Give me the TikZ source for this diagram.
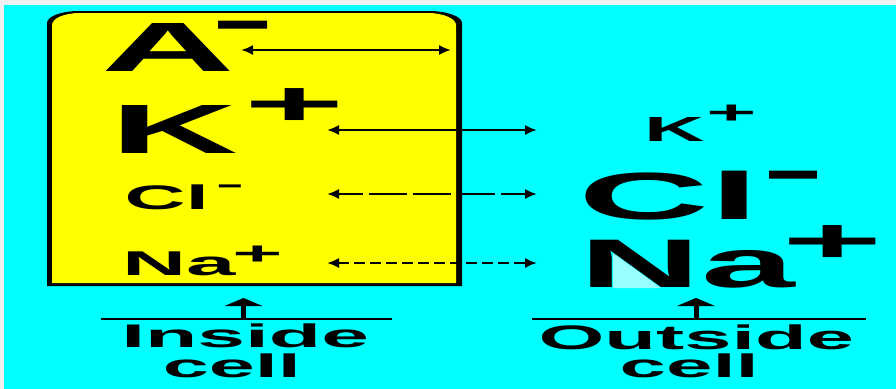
\documentclass[tikz,border=0pt]{standalone}
\usepackage{fontspec}
\setmainfont{Liberation Sans}
\usetikzlibrary{arrows.meta,calc}
\XeTeXuseglyphmetrics=1
\definecolor{bgcyan}{RGB}{0,255,255}
\definecolor{boxyellow}{RGB}{255,255,0}
\definecolor{pagegray}{RGB}{240,240,240}
\definecolor{palecyan}{RGB}{153,255,255}
\newlength\pxu
\setlength\pxu{0.75pt}
\newlength\inkL \newlength\inkT \newlength\inkR \newlength\inkB \newlength\inkH
\newcommand\fitt[3]{\resizebox*{#1\pxu}{#2\pxu}{\bfseries #3}}
% a word trimmed to the ink of its first and last letters
\newcommand\word[3]{\kern-\XeTeXglyphbounds1 \XeTeXcharglyph`#2\relax #1\kern-\XeTeXglyphbounds3 \XeTeXcharglyph`#3\relax}
% a sign trimmed to its ink on all sides
\newcommand\signink[1]{%
  \setlength\inkL{\XeTeXglyphbounds1 \XeTeXcharglyph#1\relax}%
  \setlength\inkT{\XeTeXglyphbounds2 \XeTeXcharglyph#1\relax}%
  \setlength\inkR{\XeTeXglyphbounds3 \XeTeXcharglyph#1\relax}%
  \setlength\inkB{\XeTeXglyphbounds4 \XeTeXcharglyph#1\relax}%
  \setlength\inkH{\inkT}\addtolength\inkH{\inkB}%
  \raisebox{\inkB}[\inkH][0pt]{\kern-\inkL\char#1\kern-\inkR}}
\newcommand\plusink{\signink{`+}}
\newcommand\minusink{\signink{"2212}}
\tikzset{
  tx/.style={inner sep=0pt, outer sep=0pt, anchor=north west},
  ionarrow/.style={line width=1.5pt, {Latex[length=9pt,width=7.5pt]}-{Latex[length=9pt,width=7.5pt]}},
  upstem/.style={line width=3.75pt},
  uphead/.style={fill=black},
  baseline rule/.style={line width=1.5pt}
}
\begin{document}
\begin{tikzpicture}[x=0.75pt,y=-0.75pt]
\useasboundingbox (0,0) rectangle (896,389);
\fill[pagegray] (0,0) rectangle (896,389);
\fill[bgcyan] (4,5) rectangle (896,389);
% cell box
\fill[black] (47,286) -- (47,23) .. controls (47,16.4) and (61.3,11) .. (79,11) -- (429,11) .. controls (446.7,11) and (462,16.4) .. (462,23) -- (462,286) -- cycle;
\fill[boxyellow] (52,283) -- (52,25) .. controls (52,18.5) and (64,13) .. (80,13) -- (428,13) .. controls (443,13) and (456,18.5) .. (456,25) -- (456,283) -- cycle;
\fill[palecyan] (613,253) -- (613,288) -- (661,288) -- cycle;
% inside ions
\node[tx] (Ain)   at (106,23)  {\fitt{124}{48}{\word{A}{A}{A}}};
\node[tx] (Ainm)  at (219,21)  {\fitt{49}{8}{\minusink}};
\node[tx] (Kin)   at (122,105) {\fitt{114}{48}{\word{K}{K}{K}}};
\node[tx] (Kinp)  at (252,89)  {\fitt{86}{32}{\plusink}};
\node[tx] (Clin)  at (128,185) {\fitt{75}{25}{\word{Cl}{C}{l}}};
\node[tx] (Clinm) at (219,185) {\fitt{22}{3}{\minusink}};
\node[tx] (Nain)  at (128,252) {\fitt{108}{24}{\word{Na}{N}{a}}};
\node[tx] (Nainp) at (236,246) {\fitt{43}{16}{\plusink}};
% outside ions
\node[tx] (Kout)   at (650,117) {\fitt{54}{24}{\word{K}{K}{K}}};
\node[tx] (Koutp)  at (710,105) {\fitt{43}{16}{\plusink}};
\node[tx] (Clout)  at (586,171) {\fitt{161}{49}{\word{Cl}{C}{l}}};
\node[tx] (Cloutm) at (769,171) {\fitt{48}{8}{\minusink}};
\node[tx] (Naout)  at (591,240) {\fitt{205}{48}{\word{Na}{N}{a}}};
\node[tx] (Naoutp) at (790,226) {\fitt{86}{32}{\plusink}};
% captions
\node[tx] (ins)   at (127,324) {\fitt{239}{24}{\word{Inside}{I}{e}}};
\node[tx] (cell1) at (166,354) {\fitt{129}{24}{\word{cell}{c}{l}}};
\node[tx] (outs)  at (542,325) {\fitt{309}{25}{\word{Outside}{O}{e}}};
\node[tx] (cell2) at (623,354) {\fitt{130}{24}{\word{cell}{c}{l}}};
% arrow end points
\coordinate (a1l) at (241,50);  \coordinate (a1r) at (451,50);
\coordinate (a2l) at (327,130); \coordinate (a2r) at (537,130);
\coordinate (a3l) at (327,194); \coordinate (a3r) at (537,194);
\coordinate (a4l) at (327,263); \coordinate (a4r) at (537,263);
\draw[ionarrow] (a1l) -- (a1r);
\draw[ionarrow] (a2l) -- (a2r);
\draw[ionarrow, dash pattern=on 28.5pt off 4.5pt, dash phase=10pt] (a3l) -- (a3r);
\draw[ionarrow, dash pattern=on 8.25pt off 3.75pt] (a4l) -- (a4r);
% bottom rules and up arrows
\coordinate (r1l) at (101,319); \coordinate (r1r) at (392,319);
\coordinate (r2l) at (532,319); \coordinate (r2r) at (866,319);
\draw[baseline rule] (r1l) -- (r1r);
\draw[baseline rule] (r2l) -- (r2r);
\coordinate (u1a) at (243.5,319); \coordinate (u1b) at (243.5,298);
\coordinate (u2a) at (696,319);   \coordinate (u2b) at (696,298);
\draw[upstem] (u1a) -- ($(u1b)+(0,5)$);
\fill[uphead] (u1b) -- ($(u1b)+(19,8)$) -- ($(u1b)+(-19,8)$) -- cycle;
\draw[upstem] (u2a) -- ($(u2b)+(0,5)$);
\fill[uphead] (u2b) -- ($(u2b)+(19,8)$) -- ($(u2b)+(-19,8)$) -- cycle;
\end{tikzpicture}
\end{document}
